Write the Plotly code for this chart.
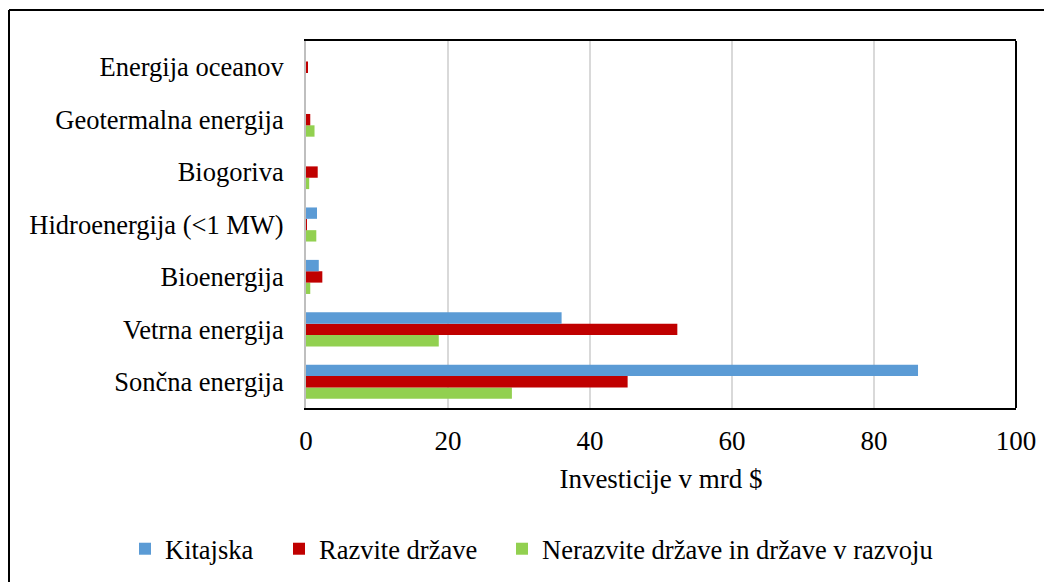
import plotly.graph_objects as go

categories = ["Sončna energija", "Vetrna energija", "Bioenergija",
              "Hidroenergija (<1 MW)", "Biogoriva", "Geotermalna energija",
              "Energija oceanov"]
kitajska = [86.2, 36.0, 1.8, 1.55, 0, 0, 0]
razvite = [45.3, 52.3, 2.3, 0.1, 1.65, 0.6, 0.2]
nerazvite = [29.0, 18.7, 0.6, 1.45, 0.45, 1.2, 0]
x_ticks = [0, 20, 40, 60, 80, 100]

FONT = "Liberation Serif"
FS = 27
FS_Y = 26.5
FS_LEG = 26.5
fig = go.Figure()
fig.add_trace(go.Bar(y=categories, x=nerazvite, orientation="h",
                     name="Nerazvite države in države v razvoju",
                     legend="legend3",
                     marker=dict(color="#92D050", line=dict(width=0))))
fig.add_trace(go.Bar(y=categories, x=razvite, orientation="h",
                     name="Razvite države", legend="legend2",
                     marker=dict(color="#C00000", line=dict(width=0))))
fig.add_trace(go.Bar(y=categories, x=kitajska, orientation="h",
                     name="Kitajska", legend="legend",
                     marker=dict(color="#5B9BD5", line=dict(width=0))))

# page body has an 8px margin: work in figure coordinates (screen - 8)
OFF = 8
W, H = 1052 - OFF, 582 - OFF
L, R, T, B = 306 - OFF, 1016 - OFF, 41 - OFF, 408 - OFF
pw, ph = R - L, B - T

def px_x(p):
    return (p - OFF - L) / pw

def px_y(p):
    return (B - (p - OFF)) / ph

def leg(xs):
    return dict(orientation="h", x=px_x(xs), xanchor="left",
                y=px_y(549), yanchor="middle",
                font=dict(family=FONT, size=FS_LEG, color="black"),
                itemwidth=30, bgcolor="rgba(0,0,0,0)")

fig.update_layout(
    width=W, height=H,
    margin=dict(l=L, r=W - R, t=T, b=H - B, pad=0, autoexpand=False),
    paper_bgcolor="white", plot_bgcolor="white",
    barmode="group", bargap=0.35, bargroupgap=0,
    font=dict(family=FONT, size=FS, color="black"),
    showlegend=True,
    legend=leg(125), legend2=leg(279), legend3=leg(502),
    xaxis=dict(range=[0, 100], tickvals=x_ticks, showgrid=True,
               gridcolor="#d9d9d9", gridwidth=2, zeroline=False,
               showline=True, linecolor="black", linewidth=2, mirror=True,
               ticks="", ticklabelstandoff=8, automargin=False,
               tickfont=dict(family=FONT, size=FS),
               title=dict(text="Investicije v mrd $", standoff=14,
                          font=dict(family=FONT, size=FS))),
    yaxis=dict(categoryorder="array", categoryarray=categories,
               showgrid=False, showline=True, linecolor="#bfbfbf",
               linewidth=2, ticks="", ticklabelstandoff=15, automargin=False,
               tickfont=dict(family=FONT, size=FS_Y)),
    shapes=[
        dict(type="line", xref="paper", yref="paper", x0=1, x1=1, y0=0, y1=1,
             line=dict(color="black", width=2)),
        dict(type="line", xref="paper", yref="paper",
             x0=px_x(9), x1=px_x(1060), y0=px_y(10), y1=px_y(10),
             line=dict(color="black", width=2)),
        dict(type="line", xref="paper", yref="paper",
             x0=px_x(9), x1=px_x(9), y0=px_y(10), y1=px_y(600),
             line=dict(color="black", width=2)),
    ],
)

fig.write_html("out.html")
